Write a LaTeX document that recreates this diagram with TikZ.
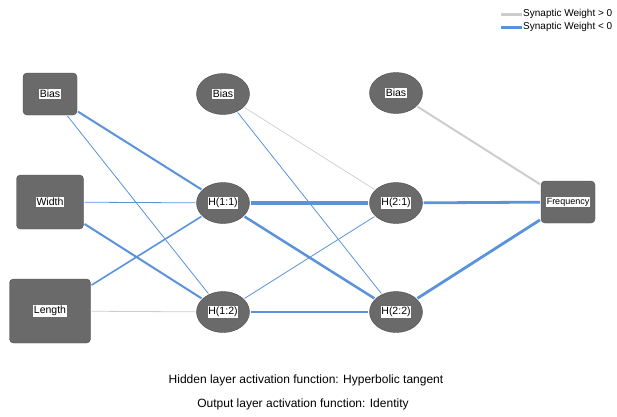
\documentclass[tikz,border=0pt]{standalone}
\usepackage{fontspec}
\setmainfont{Liberation Sans}
\usetikzlibrary{shapes.geometric}
\definecolor{nodegray}{HTML}{6A6A6A}
\definecolor{wblue}{HTML}{5A93DC}
\definecolor{wgray}{HTML}{CDCDCD}
\begin{document}
\begin{tikzpicture}[x=1pt,y=-1pt]
            \tikzstyle{lab}=[fill=white,text=black,inner sep=0.8pt,font=\fontsize{10.5}{10.5}\selectfont]
            \tikzstyle{entree}=[rectangle,rounded corners=4pt,draw=black!70,fill=nodegray,inner sep=0pt]
            \tikzstyle{cache}=[ellipse,draw=black!70,fill=nodegray,inner sep=0pt,minimum width=53pt,minimum height=41pt]
            \tikzset{neg/.style = {draw=wblue,line width=#1,shorten >=1pt,shorten <=1pt}}
            \tikzset{pos/.style = {draw=wgray,line width=#1,shorten >=1pt,shorten <=1pt}}
            \useasboundingbox (0,0) rectangle (617,416);
            % couche d'entree
            \node[entree,minimum width=54pt,minimum height=42pt,label={[lab]center:Bias}] (b0) at (50,94) {};
            \node[entree,minimum width=67pt,minimum height=54pt,label={[lab]center:Width}] (wi) at (50,202) {};
            \node[entree,minimum width=81pt,minimum height=64pt,label={[lab]center:Length}] (le) at (50,311) {};
            % couches cachees
            \node[cache,label={[lab]center:Bias}] (b1) at (223,94) {};
            \node[cache,label={[lab]center:H(1:1)}] (h11) at (223,203) {};
            \node[cache,label={[lab]center:H(1:2)}] (h12) at (223,312) {};
            \node[cache,label={[lab]center:Bias}] (b2) at (396,93) {};
            \node[cache,label={[lab]center:H(2:1)}] (h21) at (396,203) {};
            \node[cache,label={[lab]center:H(2:2)}] (h22) at (396,312) {};
            % sortie
            \node[entree,minimum width=54pt,minimum height=42pt,label={[lab,font=\fontsize{9}{9}\selectfont]center:Frequency}] (fr) at (568,202) {};
            % poids
            \draw[neg=2pt] (b0) -- (h11);
            \draw[neg=0.8pt] (b0) -- (h12);
            \draw[neg=0.8pt] (wi) -- (h11);
            \draw[neg=2pt] (wi) -- (h12);
            \draw[neg=1.6pt] (le) -- (h11);
            \draw[pos=0.8pt] (le) -- (h12);
            \draw[pos=0.7pt] (b1) -- (h21);
            \draw[neg=0.8pt] (b1) -- (h22);
            \draw[neg=3.5pt] (h11) -- (h21);
            \draw[neg=2.5pt] (h11) -- (h22);
            \draw[neg=0.8pt] (h12) -- (h21);
            \draw[neg=2.5pt] (h12) -- (h22);
            \draw[pos=2pt] (b2) -- (fr);
            \draw[neg=2.8pt] (h21) -- (fr);
            \draw[neg=2.8pt] (h22) -- (fr);
            % legende
            \coordinate (g1) at (500,14);
            \coordinate (g2) at (523,14);
            \coordinate (c1) at (500,27);
            \coordinate (c2) at (523,27);
            \draw[pos=3pt] (g1) -- (g2);
            \draw[neg=3pt] (c1) -- (c2);
            \node[anchor=west,inner sep=0pt,font=\fontsize{10}{10}\selectfont] (lg) at (g2) {Synaptic Weight > 0};
            \node[anchor=west,inner sep=0pt,font=\fontsize{10}{10}\selectfont] (lc) at (c2) {Synaptic Weight < 0};
            \node[font=\fontsize{12}{12}\selectfont] (t1) at (306,380) {Hidden layer activation function: Hyperbolic tangent};
            \node[font=\fontsize{12}{12}\selectfont] (t2) at (303,404) {Output layer activation function: Identity};
        \end{tikzpicture}
\end{document}
